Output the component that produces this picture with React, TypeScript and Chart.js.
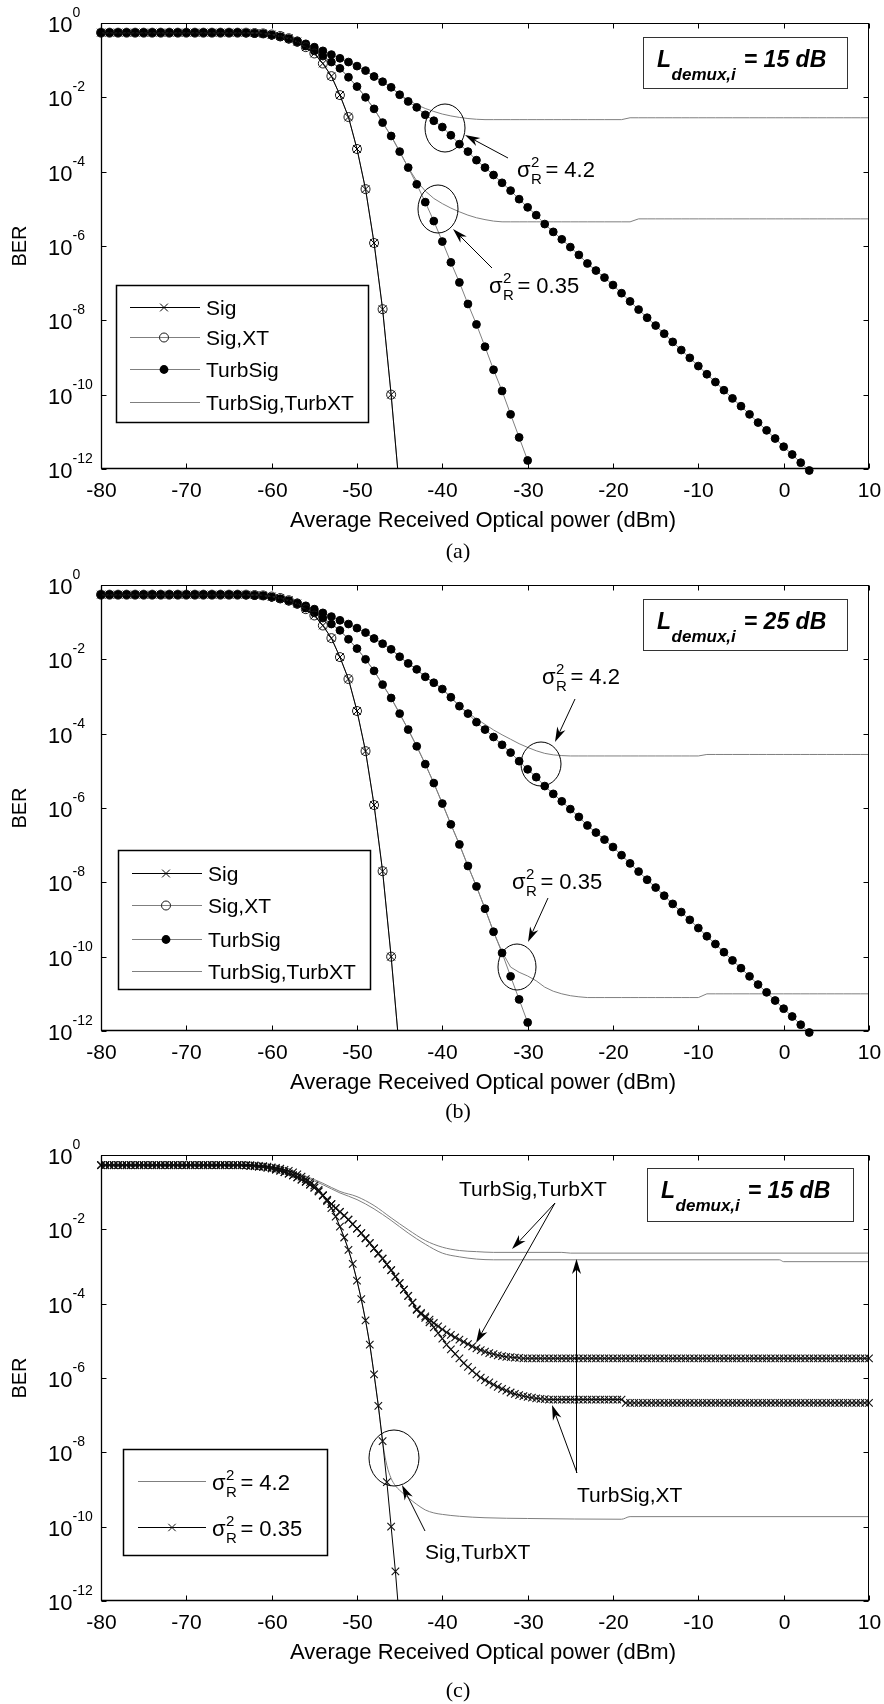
import React, { useEffect, useRef } from "react";
import { Chart, registerables } from "chart.js";

Chart.register(...registerables);

const SANS = '"Liberation Sans", Arial, Helvetica, sans-serif';
const SERIF = '"Liberation Serif", "Times New Roman", Times, serif';
const GRAY = "#7f7f7f";

const X_TICKS = [-80, -70, -60, -50, -40, -30, -20, -10, 0, 10];
const X_TICK_LABELS = ["-80", "-70", "-60", "-50", "-40", "-30", "-20", "-10", "0", "10"];
const Y_TICK_EXPONENTS = [0, -2, -4, -6, -8, -10, -12];
const Y_TICK_LABELS = ["0", "-2", "-4", "-6", "-8", "-10", "-12"];
const X_TITLE = "Average Received Optical power (dBm)";
const Y_TITLE = "BER";

// ---------- panels (a) and (b): received power grid, 1 dB (dBm)
const powerAB = [
  -80, -79, -78, -77, -76, -75, -74, -73, -72, -71,
  -70, -69, -68, -67, -66, -65, -64, -63, -62, -61,
  -60, -59, -58, -57, -56, -55, -54, -53, -52, -51,
  -50, -49, -48, -47, -46, -45, -44, -43, -42, -41,
  -40, -39, -38, -37, -36, -35, -34, -33, -32, -31,
  -30, -29, -28, -27, -26, -25, -24, -23, -22, -21,
  -20, -19, -18, -17, -16, -15, -14, -13, -12, -11,
  -10, -9, -8, -7, -6, -5, -4, -3, -2, -1,
  0, 1, 2, 3, 4, 5, 6, 7, 8, 9,
  10,
];

// log10(BER) values
const sigAB = [
  -0.26, -0.26, -0.26, -0.26, -0.26, -0.26, -0.26, -0.26, -0.26, -0.26,
  -0.26, -0.26, -0.26, -0.26, -0.26, -0.26, -0.26, -0.26, -0.27, -0.28,
  -0.31, -0.35, -0.41, -0.5, -0.65, -0.82, -1.09, -1.43, -1.94, -2.53,
  -3.39, -4.47, -5.92, -7.7, -10.0, -12.6,
];
const sigXtAB = [
  -0.26, -0.26, -0.26, -0.26, -0.26, -0.26, -0.26, -0.26, -0.26, -0.26,
  -0.26, -0.26, -0.26, -0.26, -0.26, -0.26, -0.26, -0.26, -0.27, -0.28,
  -0.31, -0.35, -0.41, -0.5, -0.65, -0.82, -1.09, -1.43, -1.94, -2.53,
  -3.39, -4.47, -5.92, -7.7, -10.0, -12.6,
];
const turbSig035 = [
  -0.26, -0.26, -0.26, -0.26, -0.26, -0.26, -0.26, -0.26, -0.26, -0.26,
  -0.26, -0.26, -0.26, -0.26, -0.26, -0.26, -0.26, -0.27, -0.28, -0.29,
  -0.33, -0.38, -0.44, -0.52, -0.62, -0.75, -0.89, -1.05, -1.22, -1.46,
  -1.71, -2.0, -2.31, -2.68, -3.04, -3.46, -3.89, -4.34, -4.82, -5.33,
  -5.88, -6.44, -6.98, -7.56, -8.11, -8.71, -9.33, -9.9, -10.53, -11.15,
  -11.77,
];
const turbSig42 = [
  -0.26, -0.26, -0.26, -0.26, -0.26, -0.26, -0.26, -0.26, -0.26, -0.26,
  -0.26, -0.26, -0.26, -0.26, -0.26, -0.26, -0.26, -0.27, -0.28, -0.29,
  -0.33, -0.37, -0.42, -0.48, -0.56, -0.65, -0.75, -0.85, -0.95, -1.05,
  -1.16, -1.28, -1.44, -1.58, -1.73, -1.93, -2.11, -2.27, -2.47, -2.63,
  -2.8, -3.02, -3.26, -3.46, -3.69, -3.89, -4.09, -4.3, -4.51, -4.74,
  -4.96, -5.17, -5.41, -5.62, -5.82, -6.03, -6.24, -6.47, -6.66, -6.85,
  -7.05, -7.27, -7.49, -7.71, -7.93, -8.14, -8.36, -8.58, -8.8, -9.01,
  -9.23, -9.45, -9.66, -9.88, -10.1, -10.31, -10.53, -10.75, -10.96, -11.18,
  -11.4, -11.61, -11.83, -12.04,
];
const turbXt42A = [
  -0.26, -0.26, -0.26, -0.26, -0.26, -0.26, -0.26, -0.26, -0.26, -0.26,
  -0.26, -0.26, -0.26, -0.26, -0.26, -0.26, -0.26, -0.27, -0.28, -0.29,
  -0.33, -0.37, -0.42, -0.48, -0.56, -0.65, -0.75, -0.85, -0.95, -1.05,
  -1.16, -1.28, -1.44, -1.58, -1.73, -1.93, -2.07, -2.2, -2.3, -2.38,
  -2.45, -2.5, -2.54, -2.57, -2.59, -2.6, -2.6, -2.6, -2.6, -2.6,
  -2.6, -2.6, -2.6, -2.6, -2.6, -2.6, -2.6, -2.6, -2.6, -2.6,
  -2.6, -2.6, -2.55, -2.55, -2.55, -2.55, -2.55, -2.55, -2.55, -2.55,
  -2.55, -2.55, -2.55, -2.55, -2.55, -2.55, -2.55, -2.55, -2.55, -2.55,
  -2.55, -2.55, -2.55, -2.55, -2.55, -2.55, -2.55, -2.55, -2.55, -2.55,
  -2.55,
];
const turbXt035A = [
  -0.26, -0.26, -0.26, -0.26, -0.26, -0.26, -0.26, -0.26, -0.26, -0.26,
  -0.26, -0.26, -0.26, -0.26, -0.26, -0.26, -0.26, -0.27, -0.28, -0.29,
  -0.33, -0.38, -0.44, -0.52, -0.62, -0.75, -0.89, -1.05, -1.22, -1.46,
  -1.71, -2.0, -2.31, -2.68, -3.04, -3.46, -3.89, -4.25, -4.52, -4.72,
  -4.86, -4.98, -5.08, -5.17, -5.24, -5.29, -5.33, -5.35, -5.35, -5.35,
  -5.35, -5.35, -5.35, -5.35, -5.35, -5.35, -5.35, -5.35, -5.35, -5.35,
  -5.35, -5.35, -5.35, -5.27, -5.27, -5.27, -5.27, -5.27, -5.27, -5.27,
  -5.27, -5.27, -5.27, -5.27, -5.27, -5.27, -5.27, -5.27, -5.27, -5.27,
  -5.27, -5.27, -5.27, -5.27, -5.27, -5.27, -5.27, -5.27, -5.27, -5.27,
  -5.27,
];
const turbXt42B = [
  -0.26, -0.26, -0.26, -0.26, -0.26, -0.26, -0.26, -0.26, -0.26, -0.26,
  -0.26, -0.26, -0.26, -0.26, -0.26, -0.26, -0.26, -0.27, -0.28, -0.29,
  -0.33, -0.37, -0.42, -0.48, -0.56, -0.65, -0.75, -0.85, -0.95, -1.05,
  -1.16, -1.28, -1.44, -1.58, -1.73, -1.93, -2.11, -2.27, -2.47, -2.63,
  -2.8, -3.02, -3.26, -3.44, -3.6, -3.75, -3.9, -4.03, -4.15, -4.27,
  -4.37, -4.46, -4.53, -4.57, -4.59, -4.6, -4.6, -4.6, -4.6, -4.6,
  -4.6, -4.6, -4.6, -4.6, -4.6, -4.6, -4.6, -4.6, -4.6, -4.6,
  -4.6, -4.56, -4.56, -4.56, -4.56, -4.56, -4.56, -4.56, -4.56, -4.56,
  -4.56, -4.56, -4.56, -4.56, -4.56, -4.56, -4.56, -4.56, -4.56, -4.56,
  -4.56,
];
const turbXt035B = [
  -0.26, -0.26, -0.26, -0.26, -0.26, -0.26, -0.26, -0.26, -0.26, -0.26,
  -0.26, -0.26, -0.26, -0.26, -0.26, -0.26, -0.26, -0.27, -0.28, -0.29,
  -0.33, -0.38, -0.44, -0.52, -0.62, -0.75, -0.89, -1.05, -1.22, -1.46,
  -1.71, -2.0, -2.31, -2.68, -3.04, -3.46, -3.89, -4.34, -4.82, -5.33,
  -5.88, -6.44, -6.98, -7.56, -8.11, -8.71, -9.33, -9.87, -10.28, -10.42,
  -10.52, -10.65, -10.82, -10.93, -11.0, -11.05, -11.08, -11.1, -11.1, -11.1,
  -11.1, -11.1, -11.1, -11.1, -11.1, -11.1, -11.1, -11.1, -11.1, -11.1,
  -11.1, -11.0, -11.0, -11.0, -11.0, -11.0, -11.0, -11.0, -11.0, -11.0,
  -11.0, -11.0, -11.0, -11.0, -11.0, -11.0, -11.0, -11.0, -11.0, -11.0,
  -11.0,
];

// ---------- panel (c): received power grid, 0.5 dB (dBm)
const powerC = [
  -80, -79.5, -79, -78.5, -78, -77.5, -77, -76.5, -76, -75.5,
  -75, -74.5, -74, -73.5, -73, -72.5, -72, -71.5, -71, -70.5,
  -70, -69.5, -69, -68.5, -68, -67.5, -67, -66.5, -66, -65.5,
  -65, -64.5, -64, -63.5, -63, -62.5, -62, -61.5, -61, -60.5,
  -60, -59.5, -59, -58.5, -58, -57.5, -57, -56.5, -56, -55.5,
  -55, -54.5, -54, -53.5, -53, -52.5, -52, -51.5, -51, -50.5,
  -50, -49.5, -49, -48.5, -48, -47.5, -47, -46.5, -46, -45.5,
  -45, -44.5, -44, -43.5, -43, -42.5, -42, -41.5, -41, -40.5,
  -40, -39.5, -39, -38.5, -38, -37.5, -37, -36.5, -36, -35.5,
  -35, -34.5, -34, -33.5, -33, -32.5, -32, -31.5, -31, -30.5,
  -30, -29.5, -29, -28.5, -28, -27.5, -27, -26.5, -26, -25.5,
  -25, -24.5, -24, -23.5, -23, -22.5, -22, -21.5, -21, -20.5,
  -20, -19.5, -19, -18.5, -18, -17.5, -17, -16.5, -16, -15.5,
  -15, -14.5, -14, -13.5, -13, -12.5, -12, -11.5, -11, -10.5,
  -10, -9.5, -9, -8.5, -8, -7.5, -7, -6.5, -6, -5.5,
  -5, -4.5, -4, -3.5, -3, -2.5, -2, -1.5, -1, -0.5,
  0, 0.5, 1, 1.5, 2, 2.5, 3, 3.5, 4, 4.5,
  5, 5.5, 6, 6.5, 7, 7.5, 8, 8.5, 9, 9.5,
  10,
];
// sigma_R^2 = 0.35, Sig,TurbXT
const c035SigTurbXt = [
  -0.27, -0.27, -0.27, -0.27, -0.27, -0.27, -0.27, -0.27, -0.27, -0.27,
  -0.27, -0.27, -0.27, -0.27, -0.27, -0.27, -0.27, -0.27, -0.27, -0.27,
  -0.27, -0.27, -0.27, -0.27, -0.27, -0.27, -0.27, -0.27, -0.27, -0.27,
  -0.27, -0.27, -0.27, -0.27, -0.27, -0.27, -0.28, -0.29, -0.3, -0.31,
  -0.33, -0.35, -0.37, -0.4, -0.43, -0.47, -0.52, -0.58, -0.65, -0.73,
  -0.82, -0.94, -1.08, -1.24, -1.43, -1.66, -1.93, -2.22, -2.55, -2.93,
  -3.38, -3.88, -4.45, -5.1, -5.9, -6.75, -7.7, -8.8, -10.0, -11.2,
  -12.6,
];
// sigma_R^2 = 0.35, TurbSig,TurbXT
const c035TurbSigTurbXt = [
  -0.27, -0.27, -0.27, -0.27, -0.27, -0.27, -0.27, -0.27, -0.27, -0.27,
  -0.27, -0.27, -0.27, -0.27, -0.27, -0.27, -0.27, -0.27, -0.27, -0.27,
  -0.27, -0.27, -0.27, -0.27, -0.27, -0.27, -0.27, -0.27, -0.27, -0.27,
  -0.27, -0.27, -0.27, -0.27, -0.28, -0.29, -0.3, -0.31, -0.32, -0.34,
  -0.36, -0.39, -0.42, -0.46, -0.5, -0.55, -0.6, -0.66, -0.72, -0.8,
  -0.88, -0.98, -1.09, -1.21, -1.32, -1.43, -1.53, -1.63, -1.74, -1.86,
  -1.98, -2.1, -2.24, -2.37, -2.51, -2.65, -2.79, -2.94, -3.1, -3.27,
  -3.45, -3.62, -3.79, -3.97, -4.15, -4.25, -4.34, -4.43, -4.52, -4.61,
  -4.69, -4.77, -4.84, -4.91, -4.97, -5.03, -5.09, -5.15, -5.2, -5.25,
  -5.29, -5.33, -5.36, -5.39, -5.41, -5.43, -5.44, -5.45, -5.46, -5.47,
  -5.47, -5.47, -5.47, -5.47, -5.47, -5.47, -5.47, -5.47, -5.47, -5.47,
  -5.47, -5.47, -5.47, -5.47, -5.47, -5.47, -5.47, -5.47, -5.47, -5.47,
  -5.47, -5.47, -5.47, -5.47, -5.47, -5.47, -5.47, -5.47, -5.47, -5.47,
  -5.47, -5.47, -5.47, -5.47, -5.47, -5.47, -5.47, -5.47, -5.47, -5.47,
  -5.47, -5.47, -5.47, -5.47, -5.47, -5.47, -5.47, -5.47, -5.47, -5.47,
  -5.47, -5.47, -5.47, -5.47, -5.47, -5.47, -5.47, -5.47, -5.47, -5.47,
  -5.47, -5.47, -5.47, -5.47, -5.47, -5.47, -5.47, -5.47, -5.47, -5.47,
  -5.47, -5.47, -5.47, -5.47, -5.47, -5.47, -5.47, -5.47, -5.47, -5.47,
  -5.47,
];
// sigma_R^2 = 0.35, TurbSig,XT
const c035TurbSigXt = [
  -0.27, -0.27, -0.27, -0.27, -0.27, -0.27, -0.27, -0.27, -0.27, -0.27,
  -0.27, -0.27, -0.27, -0.27, -0.27, -0.27, -0.27, -0.27, -0.27, -0.27,
  -0.27, -0.27, -0.27, -0.27, -0.27, -0.27, -0.27, -0.27, -0.27, -0.27,
  -0.27, -0.27, -0.27, -0.27, -0.28, -0.29, -0.3, -0.31, -0.32, -0.34,
  -0.36, -0.39, -0.42, -0.46, -0.5, -0.55, -0.6, -0.66, -0.72, -0.8,
  -0.88, -0.98, -1.09, -1.21, -1.32, -1.43, -1.53, -1.63, -1.74, -1.86,
  -1.98, -2.1, -2.24, -2.37, -2.51, -2.65, -2.79, -2.94, -3.1, -3.27,
  -3.45, -3.62, -3.79, -3.97, -4.17, -4.28, -4.38, -4.5, -4.64, -4.79,
  -4.94, -5.1, -5.23, -5.35, -5.47, -5.6, -5.7, -5.8, -5.9, -5.99,
  -6.06, -6.12, -6.18, -6.24, -6.29, -6.34, -6.39, -6.43, -6.46, -6.49,
  -6.51, -6.53, -6.55, -6.56, -6.57, -6.58, -6.58, -6.58, -6.58, -6.58,
  -6.58, -6.58, -6.58, -6.58, -6.58, -6.58, -6.58, -6.58, -6.58, -6.58,
  -6.58, -6.58, -6.58, -6.67, -6.67, -6.67, -6.67, -6.67, -6.67, -6.67,
  -6.67, -6.67, -6.67, -6.67, -6.67, -6.67, -6.67, -6.67, -6.67, -6.67,
  -6.67, -6.67, -6.67, -6.67, -6.67, -6.67, -6.67, -6.67, -6.67, -6.67,
  -6.67, -6.67, -6.67, -6.67, -6.67, -6.67, -6.67, -6.67, -6.67, -6.67,
  -6.67, -6.67, -6.67, -6.67, -6.67, -6.67, -6.67, -6.67, -6.67, -6.67,
  -6.67, -6.67, -6.67, -6.67, -6.67, -6.67, -6.67, -6.67, -6.67, -6.67,
  -6.67,
];
// sigma_R^2 = 4.2 curves (no markers)
const c42TurbSigTurbXtPower = [-80, -64, -62, -60, -58, -56, -54, -52, -50, -48, -46, -44, -42, -40, -38, -36, -34, -26, -25, 10];
const c42TurbSigTurbXt = [-0.27, -0.27, -0.29, -0.34, -0.43, -0.57, -0.76, -0.98, -1.12, -1.36, -1.69, -2.01, -2.3, -2.48, -2.57, -2.6, -2.62, -2.62, -2.64, -2.64];
const c42TurbSigXtPower = [-80, -64, -62, -60, -58, -56, -54, -52, -50, -48, -46, -44, -42, -40, -38, -36, -34, -0.5, 0, 10];
const c42TurbSigXt = [-0.27, -0.27, -0.29, -0.34, -0.44, -0.6, -0.8, -1.02, -1.2, -1.45, -1.76, -2.1, -2.4, -2.64, -2.74, -2.8, -2.82, -2.82, -2.87, -2.87];
const c42SigTurbXtPower = [
  -80, -62, -61, -60, -59, -58, -57, -56.5, -56, -55.5, -55, -54.5, -54, -53.5, -53, -52.5, -52, -51.5, -51, -50.5,
  -50, -49.5, -49, -48.5, -48, -47.5, -47, -46.5, -46, -45.5, -45, -44, -43, -42, -41, -40, -38, -35, -30, -19, -18, 10,
];
const c42SigTurbXt = [
  -0.27, -0.28, -0.3, -0.33, -0.37, -0.43, -0.52, -0.58, -0.65, -0.73, -0.82, -0.94, -1.08, -1.24, -1.43, -1.66, -1.93, -2.22, -2.55, -2.93,
  -3.38, -3.88, -4.45, -5.1, -5.9, -6.75, -7.72, -8.35, -8.7, -8.9, -9.02, -9.22, -9.4, -9.55, -9.63, -9.67, -9.72, -9.76, -9.78, -9.8, -9.73, -9.73,
];

// ---------- helpers
const MARKERS: any = {
  cross: { pointStyle: "crossRot", pointRadius: 5.5, pointBorderColor: "#000", pointBackgroundColor: "#000", pointBorderWidth: 1 },
  ring: { pointStyle: "circle", pointRadius: 4.5, pointBorderColor: "#1a1a1a", pointBackgroundColor: "rgba(0,0,0,0)", pointBorderWidth: 1 },
  dot: { pointStyle: "circle", pointRadius: 3.9, pointBorderColor: "#000", pointBackgroundColor: "#000", pointBorderWidth: 1 },
  crossC: { pointStyle: "crossRot", pointRadius: 5.3, pointBorderColor: "#111", pointBackgroundColor: "#111", pointBorderWidth: 1.1 },
};

function toPoints(xs: number[], logs: number[]) {
  return logs.map((v, i) => ({ x: xs[i], y: Math.pow(10, v) }));
}

function makeDataset(s: any) {
  const m = s.marker ? MARKERS[s.marker] : { pointRadius: 0 };
  return {
    label: s.name,
    data: toPoints(s.xs, s.logs),
    borderColor: s.color,
    borderWidth: s.width || 1,
    fill: false,
    tension: 0,
    cubicInterpolationMode: s.smooth ? "monotone" : "default",
    order: s.order,
    clip: s.clip || { left: 8, top: 8, right: 8, bottom: 8 },
    ...m,
  };
}

function seg(ctx: CanvasRenderingContext2D, x1: number, y1: number, x2: number, y2: number) {
  ctx.beginPath();
  ctx.moveTo(x1, y1);
  ctx.lineTo(x2, y2);
  ctx.stroke();
}

function drawMarker(ctx: CanvasRenderingContext2D, kind: string, x: number, y: number) {
  ctx.save();
  ctx.lineWidth = 1;
  if (kind === "cross" || kind === "crossC") {
    const r = kind === "cross" ? 3.9 : 3.7;
    ctx.strokeStyle = kind === "cross" ? "#000" : "#111";
    seg(ctx, x - r, y - r, x + r, y + r);
    seg(ctx, x - r, y + r, x + r, y - r);
  } else if (kind === "ring") {
    ctx.strokeStyle = "#1a1a1a";
    ctx.beginPath();
    ctx.arc(x, y, 4.5, 0, Math.PI * 2);
    ctx.stroke();
  } else if (kind === "dot") {
    ctx.fillStyle = "#000";
    ctx.beginPath();
    ctx.arc(x, y, 4.4, 0, Math.PI * 2);
    ctx.fill();
  }
  ctx.restore();
}

function drawSigma(ctx: CanvasRenderingContext2D, x: number, y: number, value: string) {
  ctx.save();
  ctx.fillStyle = "#000";
  ctx.textAlign = "left";
  ctx.textBaseline = "alphabetic";
  ctx.font = `22px ${SANS}`;
  ctx.fillText("\u03c3", x, y);
  const w = ctx.measureText("\u03c3").width;
  ctx.font = `15px ${SANS}`;
  ctx.fillText("2", x + w + 0.5, y - 10);
  ctx.fillText("R", x + w + 0.5, y + 7);
  const w2 = Math.max(ctx.measureText("2").width, ctx.measureText("R").width);
  ctx.font = `22px ${SANS}`;
  ctx.fillText("= " + value, x + w + w2 + 4, y);
  ctx.restore();
}

function drawArrow(ctx: CanvasRenderingContext2D, x1: number, y1: number, x2: number, y2: number) {
  const ang = Math.atan2(y2 - y1, x2 - x1);
  const L = 15;
  const W = 4.5;
  const c = Math.cos(ang);
  const s = Math.sin(ang);
  ctx.save();
  ctx.strokeStyle = "#000";
  ctx.fillStyle = "#000";
  ctx.lineWidth = 1;
  seg(ctx, x1, y1, x2 - c * L * 0.6, y2 - s * L * 0.6);
  ctx.beginPath();
  ctx.moveTo(x2, y2);
  ctx.lineTo(x2 - L * c + W * s, y2 - L * s - W * c);
  ctx.lineTo(x2 - L * 0.7 * c, y2 - L * 0.7 * s);
  ctx.lineTo(x2 - L * c - W * s, y2 - L * s + W * c);
  ctx.closePath();
  ctx.fill();
  ctx.restore();
}

function drawLBox(ctx: CanvasRenderingContext2D, a: any, b: any) {
  const x1 = a.left + b.x1;
  const y1 = a.top + b.y1;
  const x2 = a.left + b.x2;
  const y2 = a.top + b.y2;
  ctx.save();
  ctx.fillStyle = "#fff";
  ctx.fillRect(x1, y1, x2 - x1, y2 - y1);
  ctx.strokeStyle = "#333";
  ctx.lineWidth = 1;
  ctx.strokeRect(Math.round(x1) + 0.5, Math.round(y1) + 0.5, Math.round(x2 - x1), Math.round(y2 - y1));
  ctx.fillStyle = "#000";
  ctx.textAlign = "left";
  ctx.textBaseline = "alphabetic";
  const base = y1 + 30;
  let x = x1 + 14;
  ctx.font = `italic bold 23px ${SANS}`;
  ctx.fillText("L", x, base);
  x += ctx.measureText("L").width + 0.5;
  ctx.font = `italic bold 17px ${SANS}`;
  ctx.fillText("demux,i", x, base + 13);
  x += ctx.measureText("demux,i").width + 8;
  ctx.font = `italic bold 23px ${SANS}`;
  ctx.fillText("= " + b.value, x, base);
  ctx.restore();
}

function drawLegend(ctx: CanvasRenderingContext2D, a: any, lg: any) {
  const x1 = a.left + lg.x1;
  const y1 = a.top + lg.y1;
  const x2 = a.left + lg.x2;
  const y2 = a.top + lg.y2;
  ctx.save();
  ctx.fillStyle = "#fff";
  ctx.fillRect(x1, y1, x2 - x1, y2 - y1);
  ctx.strokeStyle = "#000";
  ctx.lineWidth = 1.5;
  ctx.strokeRect(Math.round(x1) + 0.5, Math.round(y1) + 0.5, Math.round(x2 - x1), Math.round(y2 - y1));
  for (const it of lg.items) {
    const y = Math.round(y1 + it.dy) + 0.5;
    ctx.strokeStyle = it.color;
    ctx.lineWidth = 1;
    seg(ctx, x1 + lg.lineX1, y, x1 + lg.lineX2, y);
    if (it.marker) drawMarker(ctx, it.marker, x1 + lg.markX, y);
    ctx.fillStyle = "#000";
    if (it.sigma) {
      drawSigma(ctx, x1 + lg.textX, y + 8, it.sigma);
    } else {
      ctx.font = `21px ${SANS}`;
      ctx.textAlign = "left";
      ctx.textBaseline = "alphabetic";
      ctx.fillText(it.label, x1 + lg.textX, y + 7.5);
    }
  }
  ctx.restore();
}

function drawDecor(chart: any, spec: any) {
  const ctx: CanvasRenderingContext2D = chart.ctx;
  const a = chart.chartArea;
  const xs = chart.scales.x;
  const ys = chart.scales.y;
  ctx.save();
  ctx.strokeStyle = "#000";
  ctx.fillStyle = "#000";
  ctx.lineWidth = 1;
  const L = Math.round(a.left) + 0.5;
  const R = Math.round(a.right) - 0.5;
  const T = Math.round(a.top) + 0.5;
  const B = Math.round(a.bottom) - 0.5;
  ctx.strokeRect(L, T, R - L, B - T);
  ctx.lineWidth = 1.3;
  seg(ctx, L, T, L, B);
  seg(ctx, L, B, R, B);
  ctx.lineWidth = 1;

  // x ticks and labels
  ctx.font = `21px ${SANS}`;
  ctx.textAlign = "center";
  ctx.textBaseline = "alphabetic";
  X_TICKS.forEach((v, i) => {
    const px = Math.round(xs.getPixelForValue(v)) + 0.5;
    seg(ctx, px, B, px, B - 5);
    seg(ctx, px, T, px, T + 5);
    ctx.fillText(X_TICK_LABELS[i], px, a.top + 474);
  });

  // y ticks and labels
  Y_TICK_EXPONENTS.forEach((e, i) => {
    const py = Math.round(ys.getPixelForValue(Math.pow(10, e))) + 0.5;
    seg(ctx, L, py, L + 5, py);
    seg(ctx, R, py, R - 5, py);
    ctx.textAlign = "left";
    ctx.font = `22px ${SANS}`;
    ctx.fillText("10", a.left - 53, py + 8);
    ctx.font = `14px ${SANS}`;
    ctx.fillText(Y_TICK_LABELS[i], a.left - 28.5, py - 7);
  });

  // axis titles
  ctx.save();
  ctx.translate(20, (a.top + a.bottom) / 2);
  ctx.rotate(-Math.PI / 2);
  ctx.textAlign = "center";
  ctx.textBaseline = "middle";
  ctx.font = `20px ${SANS}`;
  ctx.fillText(Y_TITLE, 0, 0);
  ctx.restore();

  ctx.textAlign = "center";
  ctx.font = `22px ${SANS}`;
  ctx.fillText(X_TITLE, (a.left + a.right) / 2 - 2, a.top + 504);

  ctx.font = `22px ${SERIF}`;
  ctx.fillText(spec.caption, 458, a.top + spec.captionY);

  // annotations
  for (const an of spec.annotations) {
    if (an.kind === "lbox") drawLBox(ctx, a, an);
    else if (an.kind === "arrow") drawArrow(ctx, a.left + an.x1, a.top + an.y1, a.left + an.x2, a.top + an.y2);
    else if (an.kind === "ellipse") {
      ctx.save();
      ctx.strokeStyle = "#000";
      ctx.lineWidth = 1;
      ctx.beginPath();
      ctx.ellipse(a.left + an.cx, a.top + an.cy, an.rx, an.ry, 0, 0, Math.PI * 2);
      ctx.stroke();
      ctx.restore();
    } else if (an.kind === "sigma") drawSigma(ctx, a.left + an.x, a.top + an.y, an.value);
    else if (an.kind === "text") {
      ctx.save();
      ctx.fillStyle = "#000";
      ctx.textAlign = "left";
      ctx.textBaseline = "alphabetic";
      ctx.font = `21px ${SANS}`;
      ctx.fillText(an.text, a.left + an.x, a.top + an.y);
      ctx.restore();
    }
  }

  drawLegend(ctx, a, spec.legend);
  ctx.restore();
}

// ---------- panel specs
const LEGEND_AB_ITEMS = [
  { label: "Sig", color: "#000", marker: "cross" },
  { label: "Sig,XT", color: GRAY, marker: "ring" },
  { label: "TurbSig", color: GRAY, marker: "dot" },
  { label: "TurbSig,TurbXT", color: GRAY },
];

const panelA = {
  top: 0,
  height: 566,
  plotTop: 23,
  caption: "(a)",
  captionY: 535,
  series: [
    { name: "TurbSig,TurbXT 4.2", xs: powerAB, logs: turbXt42A, color: GRAY, order: 5 },
    { name: "TurbSig,TurbXT 0.35", xs: powerAB, logs: turbXt035A, color: GRAY, order: 5 },
    { name: "TurbSig 4.2", xs: powerAB, logs: turbSig42, color: GRAY, marker: "dot", order: 3 },
    { name: "TurbSig 0.35", xs: powerAB, logs: turbSig035, color: GRAY, marker: "dot", order: 3 },
    { name: "Sig,XT", xs: powerAB, logs: sigXtAB, color: GRAY, marker: "ring", order: 2, clip: { left: 8, top: 8, right: 8, bottom: 0 } },
    { name: "Sig", xs: powerAB, logs: sigAB, color: "#000", marker: "cross", order: 1, clip: { left: 8, top: 8, right: 8, bottom: 0 } },
  ],
  legend: {
    x1: 15, y1: 262, x2: 267, y2: 399, lineX1: 14, lineX2: 84, markX: 48, textX: 90,
    items: LEGEND_AB_ITEMS.map((it, i) => ({ ...it, dy: [22, 52, 84, 117][i] })),
  },
  annotations: [
    { kind: "lbox", x1: 542, y1: 14, x2: 746, y2: 65, value: "15 dB" },
    { kind: "ellipse", cx: 344, cy: 105, rx: 20, ry: 24 },
    { kind: "arrow", x1: 407, y1: 135, x2: 364, y2: 112 },
    { kind: "sigma", x: 416, y: 154, value: "4.2" },
    { kind: "ellipse", cx: 337, cy: 186, rx: 20, ry: 24 },
    { kind: "arrow", x1: 391, y1: 245, x2: 352, y2: 206 },
    { kind: "sigma", x: 388, y: 270, value: "0.35" },
  ],
};

const panelB = {
  top: 566,
  height: 562,
  plotTop: 19,
  caption: "(b)",
  captionY: 533,
  series: [
    { name: "TurbSig,TurbXT 4.2", xs: powerAB, logs: turbXt42B, color: GRAY, order: 5 },
    { name: "TurbSig,TurbXT 0.35", xs: powerAB, logs: turbXt035B, color: GRAY, order: 5 },
    { name: "TurbSig 4.2", xs: powerAB, logs: turbSig42, color: GRAY, marker: "dot", order: 3 },
    { name: "TurbSig 0.35", xs: powerAB, logs: turbSig035, color: GRAY, marker: "dot", order: 3 },
    { name: "Sig,XT", xs: powerAB, logs: sigXtAB, color: GRAY, marker: "ring", order: 2, clip: { left: 8, top: 8, right: 8, bottom: 0 } },
    { name: "Sig", xs: powerAB, logs: sigAB, color: "#000", marker: "cross", order: 1, clip: { left: 8, top: 8, right: 8, bottom: 0 } },
  ],
  legend: {
    x1: 17, y1: 265, x2: 269, y2: 404, lineX1: 14, lineX2: 84, markX: 48, textX: 90,
    items: LEGEND_AB_ITEMS.map((it, i) => ({ ...it, dy: [23, 55, 89, 121][i] })),
  },
  annotations: [
    { kind: "lbox", x1: 542, y1: 14, x2: 746, y2: 65, value: "25 dB" },
    { kind: "sigma", x: 441, y: 99, value: "4.2" },
    { kind: "arrow", x1: 474, y1: 114, x2: 454, y2: 157 },
    { kind: "ellipse", cx: 440, cy: 179, rx: 20, ry: 22 },
    { kind: "sigma", x: 411, y: 304, value: "0.35" },
    { kind: "arrow", x1: 447, y1: 313, x2: 427, y2: 357 },
    { kind: "ellipse", cx: 416, cy: 382, rx: 19, ry: 23 },
  ],
};

const panelC = {
  top: 1128,
  height: 576,
  plotTop: 27,
  caption: "(c)",
  captionY: 542,
  series: [
    { name: "4.2 TurbSig,TurbXT", xs: c42TurbSigTurbXtPower, logs: c42TurbSigTurbXt, color: GRAY, order: 6, smooth: true },
    { name: "4.2 TurbSig,XT", xs: c42TurbSigXtPower, logs: c42TurbSigXt, color: GRAY, order: 6, smooth: true },
    { name: "4.2 Sig,TurbXT", xs: c42SigTurbXtPower, logs: c42SigTurbXt, color: GRAY, order: 6, smooth: true },
    { name: "0.35 TurbSig,TurbXT", xs: powerC, logs: c035TurbSigTurbXt, color: "#000", marker: "crossC", order: 2 },
    { name: "0.35 TurbSig,XT", xs: powerC, logs: c035TurbSigXt, color: "#000", marker: "crossC", order: 2 },
    { name: "0.35 Sig,TurbXT", xs: powerC, logs: c035SigTurbXt, color: "#000", marker: "crossC", order: 1, clip: { left: 8, top: 8, right: 8, bottom: 0 } },
  ],
  legend: {
    x1: 22, y1: 294, x2: 226, y2: 400, lineX1: 15, lineX2: 83, markX: 49, textX: 89,
    items: [
      { sigma: "4.2", color: GRAY, dy: 32 },
      { sigma: "0.35", color: "#000", marker: "crossC", dy: 78 },
    ],
  },
  annotations: [
    { kind: "lbox", x1: 546, y1: 13, x2: 752, y2: 66, value: "15 dB" },
    { kind: "text", x: 358, y: 41, text: "TurbSig,TurbXT" },
    { kind: "arrow", x1: 454, y1: 48, x2: 411, y2: 94 },
    { kind: "arrow", x1: 454, y1: 48, x2: 375, y2: 188 },
    { kind: "arrow", x1: 475.5, y1: 318, x2: 475.5, y2: 104 },
    { kind: "arrow", x1: 476, y1: 318, x2: 451, y2: 250 },
    { kind: "text", x: 476, y: 347, text: "TurbSig,XT" },
    { kind: "ellipse", cx: 293, cy: 303, rx: 25, ry: 28 },
    { kind: "arrow", x1: 324, y1: 376, x2: 301, y2: 330 },
    { kind: "text", x: 324, y: 404, text: "Sig,TurbXT" },
  ],
};

function Panel({ spec }: { spec: any }) {
  const ref = useRef<HTMLCanvasElement>(null);
  useEffect(() => {
    const canvas = ref.current;
    if (!canvas) return;
    const chart = new Chart(canvas, {
      type: "line",
      data: { datasets: spec.series.map(makeDataset) },
      options: {
        responsive: false,
        maintainAspectRatio: false,
        animation: false,
        devicePixelRatio: 1,
        events: [],
        layout: {
          padding: { left: 101, right: 15, top: spec.plotTop, bottom: spec.height - spec.plotTop - 446 },
        },
        plugins: { legend: { display: false }, tooltip: { enabled: false } },
        scales: {
          x: { type: "linear", min: -80, max: 10, display: false },
          y: { type: "logarithmic", min: 1e-12, max: 1, display: false },
        },
      } as any,
      plugins: [{ id: "decor", afterDatasetsDraw: (c: any) => drawDecor(c, spec) }],
    } as any);
    return () => chart.destroy();
  }, [spec]);
  return (
    <canvas
      ref={ref}
      width={884}
      height={spec.height}
      style={{ position: "absolute", left: 0, top: spec.top, width: 884, height: spec.height, display: "block" }}
    />
  );
}

export default function App() {
  return (
    <div style={{ position: "absolute", left: 0, top: 0, width: 884, height: 1704, background: "#fff" }}>
      <Panel spec={panelA} />
      <Panel spec={panelB} />
      <Panel spec={panelC} />
    </div>
  );
}
